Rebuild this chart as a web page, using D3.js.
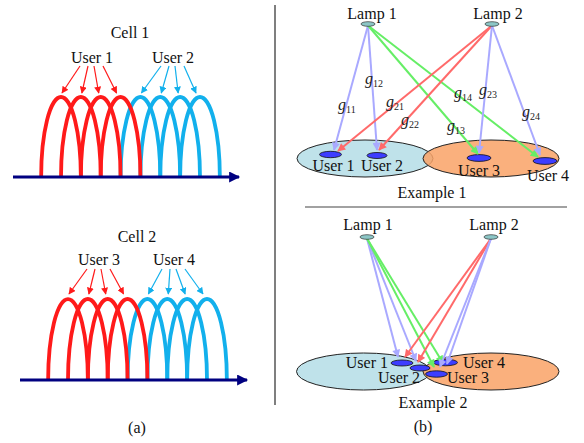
<!DOCTYPE html>
<html><head><meta charset="utf-8">
<script src="https://cdn.jsdelivr.net/npm/d3@7"></script>
<style>body{margin:0;background:#fff}svg{display:block}</style>
</head><body><svg id="c" width="584" height="443" font-family="'Liberation Serif', 'Times New Roman', 'DejaVu Serif', serif"></svg>
<script>
// ---------- data ----------
const cells = ["Cell 1", "Cell 2"];
const cellUsers = [["User 1", "User 2"], ["User 3", "User 4"]];
const subcarriers = [0, 1, 2, 3, 4, 5, 6, 7];
const subcarrierOwner = [0, 0, 0, 0, 1, 1, 1, 1];
const archHeight = [1, 1, 1, 1, 1, 1, 1, 1];
const panelLabels = ["(a)", "(b)"];
const lamps = ["Lamp 1", "Lamp 2"];
const users = ["User 1", "User 2", "User 3", "User 4"];
const gainLabels = [["11", "12", "13", "14"], ["21", "22", "23", "24"]];
// link kind per lamp -> user: 0 = own cell (lavender), 1 = cross (green from lamp 1, red from lamp 2)
const linkKind = [[0, 0, 1, 1], [1, 1, 0, 0]];
const examples = ["Example 1", "Example 2"];

const FONT = "'Liberation Serif', 'Times New Roman', 'DejaVu Serif', serif";
const svg = d3.select("#c");
svg.append("rect").attr("width", 584).attr("height", 443).attr("fill", "#fff");
const defs = svg.append("defs");
function marker(id, color, w, h) {
  defs.append("marker").attr("id", id).attr("viewBox", "0 0 10 10")
    .attr("refX", 9).attr("refY", 5).attr("markerWidth", w).attr("markerHeight", h)
    .attr("markerUnits", "userSpaceOnUse").attr("orient", "auto")
    .append("path").attr("d", "M0,0L10,5L0,10Z").attr("fill", color);
}
const RED = "#ff1a1a", BLUE = "#12b0ec", NAVY = "#000080";
marker("mRed", RED, 7, 7); marker("mBlue", BLUE, 7, 7);
marker("mNavy", NAVY, 12, 11);
const linkColors = ["#a9a9ff", "#66ee66", "#ff6a6a"];
marker("mL0", linkColors[0], 9, 8); marker("mL1", linkColors[1], 9, 8); marker("mL2", linkColors[2], 9, 8);

function label(sel, x, y, txt, anchor) {
  return sel.append("text").attr("x", x).attr("y", y).attr("text-anchor", anchor || "middle")
    .attr("font-family", FONT).attr("font-size", 16).attr("fill", "#111").text(txt);
}

// ---------- panel (a) ----------
const cellLayout = [
  {titleX: 130, titleY: 38, userX: [92, 173], userY: 63, axisY: 177, peakY: 97, x0: 13, x1: 239, p0: 61, p7: 200, arrowTop: 66, arrowBot: 93},
  {titleX: 137, titleY: 242, userX: [99, 174], userY: 265, axisY: 380, peakY: 299, x0: 20, x1: 247, p0: 68, p7: 207, arrowTop: 269, arrowBot: 294}
];
const startOff = [-12, -4, 2, 11], endOff = [1, 1, -2, -4];
cells.forEach((cell, ci) => {
  const L = cellLayout[ci];
  const x = d3.scaleLinear().domain([0, 7]).range([L.p0, L.p7]);
  const y = d3.scaleLinear().domain([0, 1]).range([L.axisY, L.peakY]);
  const hw = x(1) - x(0);
  const g = svg.append("g");
  label(g, L.titleX, L.titleY, cell);
  cellUsers[ci].forEach((u, ui) => label(g, L.userX[ui], L.userY, u));
  const order = subcarriers.slice().sort((a, b) => subcarrierOwner[b] - subcarrierOwner[a]);
  g.selectAll("path.arch").data(order).join("path").attr("class", "arch")
    .attr("d", d => {
      const cx = x(d), top = y(archHeight[d]), bot = y(0);
      return `M${cx - hw},${bot}A${hw},${bot - top} 0 0 1 ${cx + hw},${bot}`;
    })
    .attr("fill", "none").attr("stroke", d => subcarrierOwner[d] ? BLUE : RED).attr("stroke-width", 3.8);
  g.append("line").attr("x1", L.x0).attr("x2", L.x1).attr("y1", L.axisY).attr("y2", L.axisY)
    .attr("stroke", NAVY).attr("stroke-width", 3).attr("marker-end", "url(#mNavy)");
  g.selectAll("line.sa").data(subcarriers).join("line").attr("class", "sa")
    .attr("x1", d => L.userX[subcarrierOwner[d]] + startOff[d % 4]).attr("y1", L.arrowTop)
    .attr("x2", d => x(d) + endOff[d % 4]).attr("y2", L.arrowBot)
    .attr("stroke", d => subcarrierOwner[d] ? BLUE : RED).attr("stroke-width", 1.2)
    .attr("marker-end", d => subcarrierOwner[d] ? "url(#mBlue)" : "url(#mRed)");
});
label(svg, 137, 433, panelLabels[0]);

svg.append("line").attr("x1", 275).attr("x2", 275).attr("y1", 5).attr("y2", 405).attr("stroke", "#555").attr("stroke-width", 1.5);

// ---------- panel (b) ----------
const exLayout = [
  {
    lampText: [[372, 19], [498, 19]], lampPos: [[368, 24], [492, 24]],
    cellE: [[365, 158.5, 68, 18.5], [491, 158.5, 68, 18.5]],
    userE: [[330.5, 154.5, 11, 3.2], [377, 155.5, 10, 3], [479, 158, 12, 3.4], [545, 161, 12, 3.4]],
    userOrder: [0, 1, 2, 3],
    tips: [[[334, 150], [377, 150], [478, 154], [538, 157]], [[338, 151], [379, 150], [479, 153], [540, 155]]],
    userText: [[333.5, 171, "middle"], [382, 171, "middle"], [479, 176, "middle"], [548, 181, "middle"]],
    gains: [[[338, 110], [365, 84], [447, 131], [454, 98]], [[386, 107], [401, 125], [479, 95], [522, 117]]],
    exY: 198, exX: 432
  },
  {
    lampText: [[368, 230], [494, 230]], lampPos: [[367, 237], [491, 237]],
    cellE: [[363.5, 371.5, 67, 18.5], [491, 371.5, 68, 18.5]],
    userE: [[402, 363, 11, 3], [420, 368, 10, 3], [436.5, 374, 11, 3.2], [445.5, 362.5, 12, 3.3]],
    userOrder: [0, 1, 3, 2],
    tips: [[[398, 357], [416, 361], [434, 367], [443, 363]], [[405, 357], [418, 362], [440, 367], [447, 364]]],
    userText: [[388, 368, "end"], [399, 383, "middle"], [468, 383, "middle"], [484, 368, "middle"]],
    gains: null,
    exY: 408, exX: 433
  }
];
const cellFill = ["#bfe2ea", "#f9a266"];
examples.forEach((ex, ei) => {
  const L = exLayout[ei];
  const g = svg.append("g");
  L.cellE.forEach((e, k) => {
    g.append("ellipse").attr("cx", e[0]).attr("cy", e[1]).attr("rx", e[2]).attr("ry", e[3])
      .attr("fill", cellFill[k]).attr("fill-opacity", k ? 0.85 : 1).attr("stroke", "#222").attr("stroke-width", 1);
  });
  L.userOrder.forEach(u => {
    const e = L.userE[u];
    g.append("ellipse").attr("cx", e[0]).attr("cy", e[1]).attr("rx", e[2]).attr("ry", e[3])
      .attr("fill", "#3d3dff").attr("stroke", "#111").attr("stroke-width", 0.8);
  });
  users.forEach((u, ui) => {
    const t = L.userText[ui];
    label(g, t[0], t[1], u, t[2]);
  });
  lamps.forEach((lamp, li) => {
    const p = L.lampPos[li];
    users.forEach((u, ui) => {
      const kind = linkKind[li][ui] ? (li === 0 ? 1 : 2) : 0;
      const tip = L.tips[li][ui];
      g.append("line").attr("x1", p[0]).attr("y1", p[1] + 1.5).attr("x2", tip[0]).attr("y2", tip[1])
        .attr("stroke", linkColors[kind]).attr("stroke-width", 2).attr("marker-end", `url(#mL${kind})`);
    });
  });
  lamps.forEach((lamp, li) => {
    const p = L.lampPos[li];
    g.append("ellipse").attr("cx", p[0]).attr("cy", p[1]).attr("rx", 7).attr("ry", 2.3)
      .attr("fill", "#8cc6c6").attr("stroke", "#333").attr("stroke-width", 0.7);
    label(g, L.lampText[li][0], L.lampText[li][1], lamp);
  });
  if (L.gains) {
    lamps.forEach((lamp, li) => {
      users.forEach((u, ui) => {
        const pos = L.gains[li][ui];
        const t = label(g, pos[0], pos[1], null, "start").attr("fill", "#222");
        t.append("tspan").attr("font-style", "italic").text("g");
        t.append("tspan").attr("font-size", 10).attr("dy", 3).text(gainLabels[li][ui]);
      });
    });
  }
  label(g, L.exX, L.exY, ex);
});
svg.append("line").attr("x1", 305).attr("x2", 567).attr("y1", 207).attr("y2", 207).attr("stroke", "#444").attr("stroke-width", 1.2);
label(svg, 423, 432, panelLabels[1]);
</script></body></html>
